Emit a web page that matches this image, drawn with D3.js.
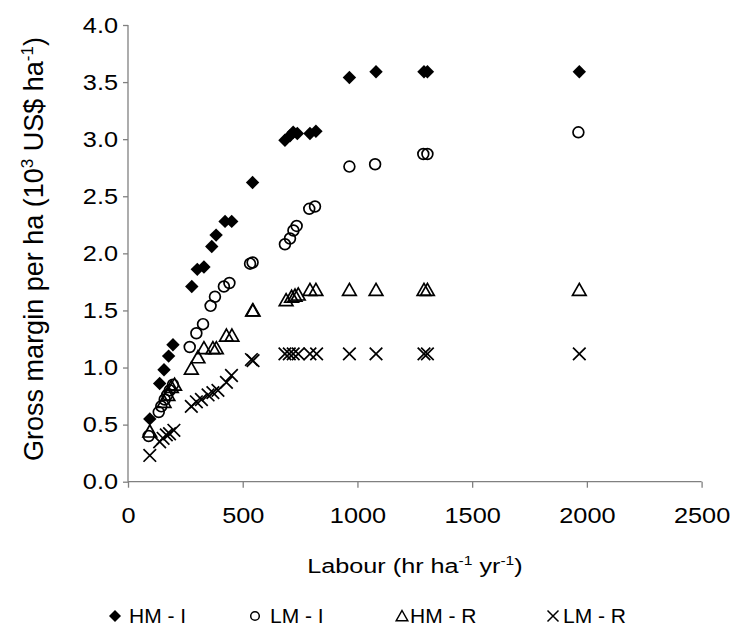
<!DOCTYPE html>
<html>
<head>
<meta charset="utf-8">
<script src="https://cdn.jsdelivr.net/npm/d3@7"></script>
<style>
  body { margin: 0; background: #fff; }
  text { font-family: "Liberation Sans", Arial, sans-serif; fill: #000; }
</style>
</head>
<body>
<script>
// Gross margin vs labour scatter

var svgWidth = 731;
var svgHeight = 627;

var margin = { top: 25, right: 29, bottom: 145, left: 128 };
var chartWidth = 701.6 - margin.left;
var chartHeight = 481.7 - margin.top;

// series data (labour hr/ha/yr, gross margin 10^3 US$/ha)
var hmiX = [95, 138, 157, 177, 196, 278, 302, 331, 365, 384, 423, 452, 543, 684, 706, 720, 738, 793, 819, 965, 1081, 1290, 1305, 1967];
var hmiY = [0.55, 0.86, 0.98, 1.10, 1.20, 1.71, 1.86, 1.88, 2.06, 2.16, 2.28, 2.28, 2.62, 2.99, 3.03, 3.06, 3.05, 3.05, 3.07, 3.54, 3.59, 3.59, 3.59, 3.59];

var lmiX = [90, 134, 145, 160, 171, 182, 196, 269, 298, 327, 360, 379, 418, 442, 532, 543, 684, 706, 721, 735, 790, 815, 965, 1077, 1287, 1305, 1963];
var lmiY = [0.40, 0.61, 0.66, 0.72, 0.76, 0.80, 0.85, 1.18, 1.30, 1.38, 1.54, 1.62, 1.71, 1.74, 1.91, 1.92, 2.08, 2.13, 2.20, 2.24, 2.39, 2.41, 2.76, 2.78, 2.87, 2.87, 3.06];

var hmrX = [95, 157, 174, 189, 203, 276, 305, 331, 370, 385, 429, 453, 543, 545, 689, 713, 728, 742, 793, 819, 965, 1081, 1290, 1305, 1967];
var hmrY = [0.44, 0.70, 0.76, 0.83, 0.85, 0.99, 1.09, 1.17, 1.17, 1.17, 1.28, 1.28, 1.50, 1.50, 1.59, 1.62, 1.63, 1.64, 1.68, 1.68, 1.68, 1.68, 1.68, 1.68, 1.68];

var lmrX = [95, 138, 153, 167, 181, 200, 276, 298, 320, 349, 370, 392, 429, 451, 538, 545, 684, 703, 720, 742, 793, 822, 965, 1081, 1290, 1305, 1967];
var lmrY = [0.23, 0.35, 0.38, 0.41, 0.42, 0.45, 0.66, 0.70, 0.72, 0.76, 0.78, 0.80, 0.87, 0.93, 1.07, 1.06, 1.12, 1.12, 1.12, 1.12, 1.12, 1.12, 1.12, 1.12, 1.12, 1.12, 1.12];

var seriesNames = ["HM - I", "LM - I", "HM - R", "LM - R"];
var xTicks = [0, 500, 1000, 1500, 2000, 2500];
var yTicks = [0, 0.5, 1.0, 1.5, 2.0, 2.5, 3.0, 3.5, 4.0];

// marker shapes
function diamond(s) { return "M0," + (-s) + "L" + s + ",0L0," + s + "L" + (-s) + ",0Z"; }
function circle(s) { return "M" + s + ",0A" + s + "," + s + " 0 1,1 " + (-s) + ",0A" + s + "," + s + " 0 1,1 " + s + ",0Z"; }
function triangle(s) { return "M0," + (-s) + "L" + (s * 1.05) + "," + (s * 0.85) + "L" + (-s * 1.05) + "," + (s * 0.85) + "Z"; }
function cross(s) { return "M" + (-s) + "," + (-s) + "L" + s + "," + s + "M" + s + "," + (-s) + "L" + (-s) + "," + s; }

var series = [
  { name: seriesNames[0], xs: hmiX, ys: hmiY, shape: diamond, size: 6.7, legSize: 6, fill: "#000", stroke: "none" },
  { name: seriesNames[1], xs: lmiX, ys: lmiY, shape: circle, size: 5.4, legSize: 4.3, fill: "none", stroke: "#000" },
  { name: seriesNames[2], xs: hmrX, ys: hmrY, shape: triangle, size: 6.5, legSize: 5.5, fill: "none", stroke: "#000" },
  { name: seriesNames[3], xs: lmrX, ys: lmrY, shape: cross, size: 6.3, legSize: 5.5, fill: "none", stroke: "#000" }
];

var svg = d3.select("body")
  .append("svg")
  .attr("width", svgWidth)
  .attr("height", svgHeight);

svg.append("rect").attr("width", svgWidth).attr("height", svgHeight).attr("fill", "#fff");

var chartGroup = svg.append("g")
  .attr("transform", `translate(${margin.left}, ${margin.top})`);

var xScale = d3.scaleLinear().domain([0, 2500]).range([0, chartWidth]);
var yScale = d3.scaleLinear().domain([0, 4]).range([chartHeight, 0]);

var bottomAxis = d3.axisBottom(xScale).tickValues(xTicks).tickSize(6).tickPadding(21).tickFormat(d3.format("d"));
var leftAxis = d3.axisLeft(yScale).tickValues(yTicks).tickSize(5).tickPadding(5).tickFormat(d3.format(".1f"));

var yAxisG = chartGroup.append("g").call(leftAxis);
var xAxisG = chartGroup.append("g")
  .attr("transform", "translate(0, " + chartHeight + ")")
  .call(bottomAxis);

// tick labels are a bit wide in the original, stretch them sideways
[xAxisG, yAxisG].forEach(function (g) {
  g.select(".domain").attr("stroke", "#808080").attr("stroke-width", 1.3);
  g.selectAll(".tick line").attr("stroke", "#808080").attr("stroke-width", 1.3);
  g.selectAll(".tick text")
    .style("font-size", "22px")
    .style("font-family", "'Liberation Sans', Arial, sans-serif")
    .attr("fill", "#000")
    .each(function () {
      var t = d3.select(this);
      var tx = +t.attr("x") || 0;
      var ty = +t.attr("y") || 0;
      t.attr("x", 0).attr("y", 0)
        .attr("dy", g === xAxisG ? "0" : "0.32em")
        .attr("transform", `translate(${tx}, ${g === xAxisG ? 41.6 : ty}) scale(1.15, 1)`);
    });
});
xAxisG.select(".domain").attr("d", "M0,0H" + chartWidth);
yAxisG.select(".domain").attr("d", "M0,0V" + chartHeight);

// points
series.forEach(function (s) {
  var pts = s.xs.map(function (x, i) { return [x, s.ys[i]]; });
  chartGroup.append("g").selectAll("path")
    .data(pts)
    .enter()
    .append("path")
    .attr("transform", d => `translate(${xScale(d[0])}, ${yScale(d[1])})`)
    .attr("d", s.shape(s.size))
    .attr("fill", s.fill)
    .attr("stroke", s.stroke)
    .attr("stroke-width", 1.7);
});

// axis titles
var yTitle = svg.append("text")
  .attr("transform", "translate(43, 249) rotate(-90)")
  .style("text-anchor", "middle")
  .style("font-size", "27px");
yTitle.append("tspan").text("Gross margin per ha (10");
yTitle.append("tspan").attr("dy", -10).style("font-size", "17px").text("3");
yTitle.append("tspan").attr("dy", 10).text(" US$ ha");
yTitle.append("tspan").attr("dy", -10).style("font-size", "17px").text("-1");
yTitle.append("tspan").attr("dy", 10).text(")");

var xTitle = svg.append("text")
  .attr("transform", "translate(415, 573) scale(1.2, 1)")
  .style("text-anchor", "middle")
  .style("font-size", "21px");
xTitle.append("tspan").text("Labour (hr ha");
xTitle.append("tspan").attr("dy", -8).style("font-size", "13px").text("-1");
xTitle.append("tspan").attr("dy", 8).text(" yr");
xTitle.append("tspan").attr("dy", -8).style("font-size", "13px").text("-1");
xTitle.append("tspan").attr("dy", 8).text(")");

// legend
var legendX = [115, 255, 402, 553];
var legendTextX = [129, 270, 410, 563];
var legend = svg.append("g");
series.forEach(function (s, i) {
  legend.append("path")
    .attr("transform", `translate(${legendX[i]}, 616)`)
    .attr("d", s.shape(s.legSize))
    .attr("fill", s.fill)
    .attr("stroke", s.stroke)
    .attr("stroke-width", 1.5);
  legend.append("text")
    .attr("x", legendTextX[i])
    .attr("y", 623)
    .style("font-size", "21px")
    .text(s.name);
});
</script>
</body>
</html>
